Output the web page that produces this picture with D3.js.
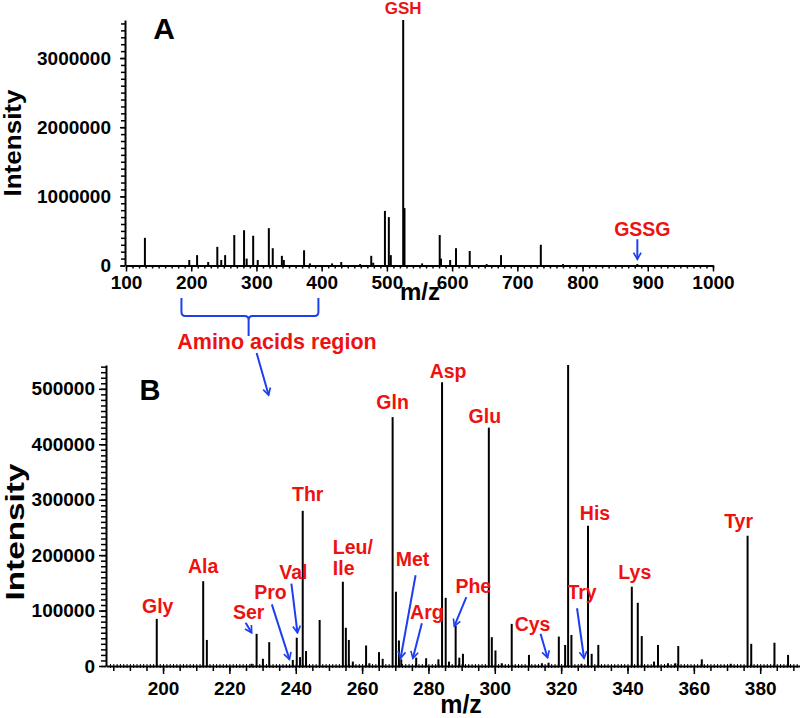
<!DOCTYPE html>
<html><head><meta charset="utf-8">
<script src="https://cdn.jsdelivr.net/npm/d3@7"></script>
<style>
html,body{margin:0;padding:0;background:#fff;}
text{font-family:"Liberation Sans",Arial,sans-serif;font-weight:bold;}
</style></head>
<body>
<svg id="chart" width="800" height="718"></svg>
<script>
// ---------- Panel A data (full scan) ----------
const mzA = [129,197,209,226,240,246,252,266,281,285,295,302,319,325,339,342,373,382,416,430,459,476,479,497,503,506,525,527,554,581,583,597,606,627,653,675,736,770,884];
const intA = [400000,80000,150000,50000,270000,80000,150000,440000,510000,100000,430000,80000,540000,250000,140000,80000,220000,30000,30000,50000,20000,140000,40000,790000,700000,150000,3550000,830000,30000,440000,100000,80000,250000,210000,20000,150000,300000,20000,20000];
const xTicksA = [100,200,300,400,500,600,700,800,900,1000];
const yTicksA = [0,1000000,2000000,3000000];

// ---------- Panel B data (amino acid region) ----------
const mzB = [198.1,212.1,213.2,226.7,228.2,230.1,232.0,239.1,240.3,241.3,242.1,243.1,247.2,254.2,255.1,256.0,257.2,261.2,262.2,265.1,266.2,269.2,270.2,271.1,271.8,276.3,279.3,283.0,284.1,285.2,286.2,288.2,289.3,290.4,298.2,299.1,300.2,302.1,305.1,310.3,314.2,316.2,319.3,321.2,322.1,323.1,326.1,328.1,329.2,331.2,341.3,343.1,344.3,348.0,349.2,352.2,354.4,355.3,362.4,371.1,376.2,377.3,384.3,388.4];
const intB = [85000,153000,47000,4000,58000,13000,43000,11000,51000,16000,280000,27000,83000,152000,69000,47000,8000,37000,5000,25000,13000,449000,134000,46000,12000,15000,14000,12000,512000,123000,8000,73000,15000,22000,430000,52000,28000,5000,76000,20000,5000,6000,53000,38000,543000,56000,4000,253000,22000,38000,143000,114000,54000,8000,38000,5000,5000,36000,12000,4000,235000,40000,42000,20000];
const xTicksB = [200,220,240,260,280,300,320,340,360,380];
const yTicksB = [0,100000,200000,300000,400000,500000];

// amino acid labels: name, m/z of anchor, intensity of anchor, arrow (1) or not (0)
const aaNames  = ['Gly','Ala','Ser','Pro','Val','Thr','Leu/Ile','Met','Arg','Gln','Asp','Phe','Glu','Cys','Try','His','Lys','Tyr'];
const aaMz     = [198.1,212.1,226.7,238.1,240.5,242.1,254.2,271.6,275.3,269.2,284.1,287.8,298.2,315.9,326.9,328.1,341.3,376.2];
const aaAnchor = [85000,153000,60000,12000,60000,280000,152000,14000,14000,449000,512000,72000,430000,15000,14000,253000,143000,235000];
const aaArrow  = [0,0,1,1,1,0,0,1,1,0,0,1,0,1,1,0,0,0];

// ---------- layout (offsets in px, not data) ----------
const labelOffset = {
  Gly:[1,-6], Ala:[0,-8], Ser:[-3,-14], Pro:[-19,-60], Val:[-4,-54], Thr:[5,-10],
  'Leu/Ile':[-10,-28], Met:[12,-92], Arg:[14,-39], Gln:[0,-8], Asp:[6,-4],
  Phe:[19,-33], Glu:[-4,-5], Cys:[-15,-27], Try:[-2,-59], His:[7,-6], Lys:[3,-8], Tyr:[-9,-8]
};
const arrowStart = {
  Ser:[-6,-10], Pro:[-17.6,-55], Val:[-6,-49], Met:[15,-83], Arg:[9,-35],
  Phe:[12,-29], Cys:[-7,-24], Try:[-7,-50]
};

const RED = '#ee1111', BLUE = '#1e3ff0';
const LBL = 19.5, TICK = 19;
const svg = d3.select('#chart');

svg.append('defs').append('marker')
  .attr('id','ah').attr('viewBox','-1 -6 12 12')
  .attr('markerWidth',10).attr('markerHeight',10)
  .attr('markerUnits','userSpaceOnUse')
  .attr('refX',9).attr('refY',0).attr('orient','auto')
  .append('path').attr('d','M1,-4.5 L9,0 L1,4.5')
  .attr('fill','none').attr('stroke',BLUE).attr('stroke-width',2);

// ---------- Panel A ----------
const xA = d3.scaleLinear().domain([100,1000]).range([126,713]);
const yA = d3.scaleLinear().domain([0,3550000]).range([265.5,20]);
const gA = svg.append('g');

gA.append('g').selectAll('line').data(mzA.map((m,i)=>[m,intA[i]])).join('line')
  .attr('x1',d=>xA(d[0])).attr('x2',d=>xA(d[0]))
  .attr('y1',yA(0)).attr('y2',d=>yA(d[1]))
  .attr('stroke','#000').attr('stroke-width',2);

function styleAxis(g, fs){
  g.selectAll('path.domain').attr('stroke','#000').attr('stroke-width',2);
  g.selectAll('.tick line').attr('stroke','#000').attr('stroke-width',1.5);
  g.selectAll('text').attr('font-size',fs).attr('fill','#000')
    .attr('font-family','"Liberation Sans",Arial,sans-serif').attr('font-weight','bold');
}
// minor ticks A
const minorXA = d3.range(100,1001,10);
gA.append('g').attr('transform',`translate(0,${yA(0)})`)
  .call(d3.axisBottom(xA).tickValues(minorXA).tickSize(3).tickFormat(''))
  .call(g=>{g.select('.domain').remove(); g.selectAll('.tick line').attr('stroke','#000').attr('stroke-width',1.5);});
gA.append('g').attr('transform',`translate(${xA(100)-1},0)`)
  .call(d3.axisLeft(yA).tickValues(d3.range(0,3550001,100000)).tickSize(4).tickFormat(''))
  .call(g=>{g.select('.domain').remove(); g.selectAll('.tick line').attr('stroke','#000').attr('stroke-width',1.5);});
gA.append('g').attr('transform',`translate(0,${yA(0)})`)
  .call(d3.axisBottom(xA).tickValues(xTicksA).tickSize(6).tickSizeOuter(0).tickPadding(4).tickFormat(d3.format('d')))
  .call(g=>styleAxis(g,TICK));
gA.append('g').attr('transform',`translate(${xA(100)-1},0)`)
  .call(d3.axisLeft(yA).tickValues(yTicksA).tickSize(5).tickSizeOuter(0).tickPadding(9).tickFormat(d3.format('d')))
  .call(g=>styleAxis(g,TICK));

gA.append('text').attr('x',164).attr('y',39).attr('text-anchor','middle').attr('font-size',30).text('A');
gA.append('text').attr('transform','translate(21,143) rotate(-90)').attr('text-anchor','middle')
  .attr('font-size',24).attr('textLength',107).attr('lengthAdjust','spacingAndGlyphs').text('Intensity');
gA.append('text').attr('x',420).attr('y',300).attr('text-anchor','middle').attr('font-size',24).text('m/z');

// GSH & GSSG
const iG = mzA.indexOf(525);
gA.append('text').attr('x',xA(mzA[iG])).attr('y',yA(intA[iG])-6).attr('text-anchor','middle')
  .attr('font-size',17).attr('fill',RED).text('GSH');
const gsMz = 884, gsTip = 90000;
gA.append('text').attr('x',xA(gsMz)+5).attr('y',yA(gsTip)-23).attr('text-anchor','middle')
  .attr('font-size',LBL).attr('fill',RED).text('GSSG');
gA.append('line').attr('x1',xA(gsMz)).attr('y1',yA(gsTip)-20).attr('x2',xA(gsMz)).attr('y2',yA(gsTip))
  .attr('stroke',BLUE).attr('stroke-width',2).attr('marker-end','url(#ah)');

// bracket for amino acid region
const bL = xA(185), bR = xA(395), bM = xA(288), bTop = 298, bY = 316;
svg.append('path')
  .attr('d',`M${bL},${bTop} L${bL},${bY-4} Q${bL},${bY} ${bL+4},${bY} L${bM-4},${bY} Q${bM},${bY} ${bM},${bY+4} L${bM},${bY+20} M${bM},${bY+4} Q${bM},${bY} ${bM+4},${bY} L${bR-4},${bY} Q${bR},${bY} ${bR},${bY-4} L${bR},${bTop}`)
  .attr('fill','none').attr('stroke',BLUE).attr('stroke-width',2);
svg.append('text').attr('x',277).attr('y',349).attr('text-anchor','middle')
  .attr('font-size',21.5).attr('fill',RED).text('Amino acids region');
svg.append('line').attr('x1',bM+8).attr('y1',353).attr('x2',bM+20).attr('y2',395)
  .attr('stroke',BLUE).attr('stroke-width',2).attr('marker-end','url(#ah)');

// ---------- Panel B ----------
const xB = d3.scaleLinear().domain([182.8,392]).range([106,800]);
const yB = d3.scaleLinear().domain([0,543000]).range([666,365]);
const gB = svg.append('g');

gB.append('g').selectAll('line').data(mzB.map((m,i)=>[m,intB[i]])).join('line')
  .attr('x1',d=>xB(d[0])).attr('x2',d=>xB(d[0]))
  .attr('y1',yB(0)).attr('y2',d=>yB(d[1]))
  .attr('stroke','#000').attr('stroke-width',2);

// minor ticks B
gB.append('g').attr('transform',`translate(0,${yB(0)-2})`)
  .call(d3.axisBottom(xB).tickValues(d3.range(184,392,1)).tickSize(4).tickFormat(''))
  .call(g=>{g.select('.domain').remove(); g.selectAll('.tick line').attr('stroke','#000').attr('stroke-width',1);});
gB.append('g').attr('transform',`translate(0,${yB(0)})`)
  .call(d3.axisBottom(xB).tickValues(d3.range(185,392,5)).tickSize(5).tickFormat(''))
  .call(g=>{g.select('.domain').remove(); g.selectAll('.tick line').attr('stroke','#000').attr('stroke-width',1.5);});
gB.append('g').attr('transform',`translate(${xB.range()[0]},0)`)
  .call(d3.axisLeft(yB).tickValues(d3.range(0,543001,10000)).tickSize(5).tickFormat(''))
  .call(g=>{g.select('.domain').remove(); g.selectAll('.tick line').attr('stroke','#000').attr('stroke-width',1.5);});
gB.append('g').attr('transform',`translate(0,${yB(0)})`)
  .call(d3.axisBottom(xB).tickValues(xTicksB).tickSize(8).tickSizeOuter(0).tickPadding(8).tickFormat(d3.format('d')))
  .call(g=>styleAxis(g,TICK));
gB.append('g').attr('transform',`translate(${xB.range()[0]},0)`)
  .call(d3.axisLeft(yB).tickValues(yTicksB).tickSize(7).tickSizeOuter(0).tickPadding(4).tickFormat(d3.format('d')))
  .call(g=>styleAxis(g,TICK));

gB.append('text').attr('x',150).attr('y',400).attr('text-anchor','middle').attr('font-size',29).text('B');
gB.append('text').attr('transform','translate(24,532) rotate(-90)').attr('text-anchor','middle')
  .attr('font-size',26).attr('textLength',137).attr('lengthAdjust','spacingAndGlyphs').text('Intensity');
gB.append('text').attr('x',461).attr('y',713).attr('text-anchor','middle').attr('font-size',25).text('m/z');

// amino acid labels
aaNames.forEach((name,i)=>{
  const ax = xB(aaMz[i]), ay = yB(aaAnchor[i]);
  const off = labelOffset[name];
  if (name === 'Leu/Ile') {
    gB.append('text').attr('x',ax+off[0]).attr('y',ay+off[1]).attr('font-size',LBL).attr('fill',RED).text('Leu/');
    gB.append('text').attr('x',ax+off[0]).attr('y',ay+off[1]+21).attr('font-size',LBL).attr('fill',RED).text('Ile');
  } else {
    gB.append('text').attr('x',ax+off[0]).attr('y',ay+off[1]).attr('text-anchor','middle')
      .attr('font-size',LBL).attr('fill',RED).text(name);
  }
  if (aaArrow[i]) {
    const s = arrowStart[name];
    gB.append('line').attr('x1',ax+s[0]).attr('y1',ay+s[1]).attr('x2',ax).attr('y2',ay)
      .attr('stroke',BLUE).attr('stroke-width',2).attr('marker-end','url(#ah)');
  }
});
</script>
</body></html>
